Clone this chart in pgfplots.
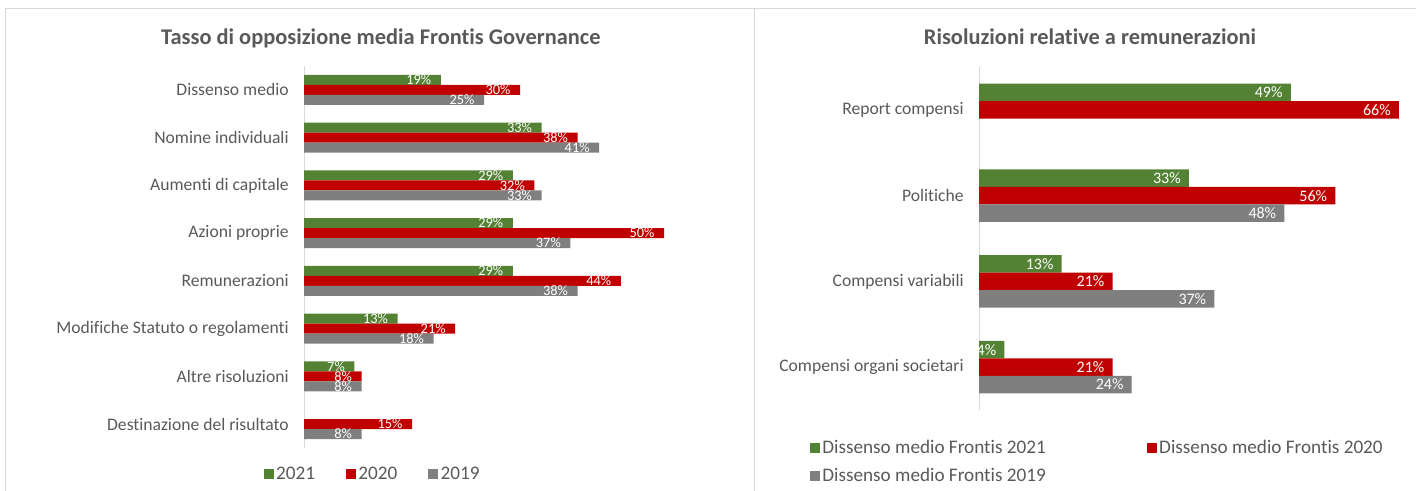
\documentclass[border=0pt]{standalone}
\usepackage{pgfplots}
\pgfplotsset{compat=1.18}
\usepackage{fontspec}
\setmainfont[Ligatures=NoCommon]{Carlito}

\definecolor{verde}{HTML}{548235}
\definecolor{rosso}{HTML}{C00000}
\definecolor{grigio}{HTML}{7F7F7F}
\definecolor{testo}{HTML}{595959}
\definecolor{linea}{HTML}{D9D9D9}

% 1 px of the reference = 0.75pt
\pgfplotsset{
  barre/.style={
    xbar, y dir=reverse, scale only axis, clip=false,
    xmin=0, axis x line=none, axis y line*=left,
    axis line style={draw=linea, line width=0.75pt},
    major tick length=0pt,
    yticklabel style={font=\fontsize{13.2}{15}\selectfont, text=testo, xshift=-8pt},
    point meta=x,
    /pgf/number format/assume math mode=true,
    nodes near coords={\pgfmathprintnumber{\pgfplotspointmeta}\%},
    legend image code/.code={\fill[##1,draw=none] (0pt,-3.75pt) rectangle (7.5pt,3.75pt);},
    title style={anchor=center, font=\bfseries\fontsize{16.8}{20}\selectfont, text=testo},
  },
}

\begin{document}
\begin{tikzpicture}
\useasboundingbox (0,0) rectangle (1062pt,368.25pt);
\draw[linea, line width=0.75pt] (3.75pt,0) -- (3.75pt,361.5pt) -- (1070pt,361.5pt);
\draw[linea, line width=0.75pt] (565.5pt,0) -- (565.5pt,361.5pt);

% ---------------- left chart
\begin{axis}[barre,
  at={(228pt,32.25pt)}, anchor=south west,
  width=297pt, height=286.5pt,
  xmax=55, ymin=-0.5, ymax=7.5,
  bar width=7.5pt,
  ytick={0,...,7},
  yticklabels={Dissenso medio, Nomine individuali, Aumenti di capitale, Azioni proprie,
    Remunerazioni, Modifiche Statuto o regolamenti, Altre risoluzioni, Destinazione del risultato},
  every node near coord/.append style={anchor=east, text=white, inner sep=0pt, xshift=-7pt,
    font=\fontsize{10.8}{12}\selectfont},
  title={Tasso di opposizione media Frontis Governance},
  title style={at={(0.194,1.05)}},
  legend columns=3,
  legend style={at={(0.174,-0.068)}, anchor=center, draw=none, fill=none,
    font=\fontsize{14.4}{16}\selectfont, text=testo,
    /tikz/every even column/.append style={column sep=21pt}},
]
\addplot[fill=verde, draw=none, bar shift=7.5pt] coordinates {
  (19,0) (33,1) (29,2) (29,3) (29,4) (13,5) (7,6)};
\addplot[fill=rosso, draw=none, bar shift=0pt] coordinates {
  (30,0) (38,1) (32,2) (50,3) (44,4) (21,5) (8,6) (15,7)};
\addplot[fill=grigio, draw=none, bar shift=-7.5pt] coordinates {
  (25,0) (41,1) (33,2) (37,3) (38,4) (18,5) (8,6) (8,7)};
\legend{2021, 2020, 2019}
\end{axis}

% ---------------- right chart
\begin{axis}[barre,
  at={(734.25pt,60.75pt)}, anchor=south west,
  width=324.5pt, height=257.25pt,
  xmax=68, ymin=-0.5, ymax=3.5,
  bar width=13.1pt,
  ytick={0,...,3},
  yticklabels={Report compensi, Politiche, Compensi variabili, Compensi organi societari},
  every node near coord/.append style={anchor=east, text=white, inner sep=0pt, xshift=-6pt,
    font=\fontsize{12}{14}\selectfont},
  title={Risoluzioni relative a remunerazioni},
  title style={at={(0.2565,1.064)}},
  legend columns=2,
  legend style={at={(0.274,-0.151)}, anchor=center, draw=none, fill=none,
    font=\fontsize{14.4}{16}\selectfont, text=testo,
    /tikz/every even column/.append style={column sep=73.5pt},
    row sep=5.5pt},
]
\addplot[fill=verde, draw=none, bar shift=13.1pt] coordinates {
  (49,0) (33,1) (13,2) (4,3)};
\addplot[fill=rosso, draw=none, bar shift=0pt] coordinates {
  (66,0) (56,1) (21,2) (21,3)};
\addplot[fill=grigio, draw=none, bar shift=-13.1pt] coordinates {
  (48,1) (37,2) (24,3)};
\legend{Dissenso medio Frontis 2021, Dissenso medio Frontis 2020, Dissenso medio Frontis 2019}
\end{axis}
\end{tikzpicture}
\end{document}
